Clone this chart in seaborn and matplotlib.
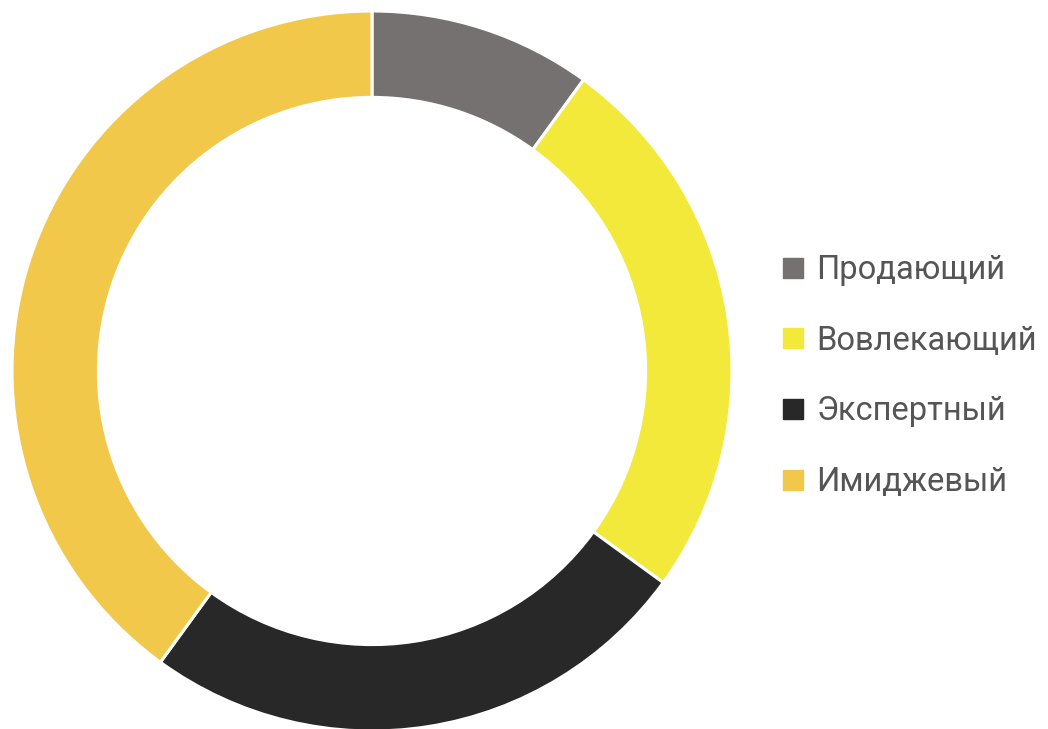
import matplotlib.pyplot as plt
import seaborn as sns
from matplotlib.lines import Line2D

# Данные
labels = ['Продающий', 'Вовлекающий', 'Экспертный', 'Имиджевый']
values = [10, 25, 25, 40]
colors = ['#757170', '#F2E93A', '#282828', '#F2C84B']

sns.set_theme(style='white')
plt.rcParams['font.family'] = ['Roboto', 'DejaVu Sans']

fig = plt.figure(figsize=(10.48, 7.29), dpi=100)
ax = fig.add_axes([12 / 1048, -2 / 729, 720 / 1048, 720 / 729])

ax.pie(values, colors=colors, startangle=90, counterclock=False,
       wedgeprops=dict(width=0.24, edgecolor='white', linewidth=2.2))
ax.set_xlim(-1, 1)
ax.set_ylim(-1, 1)
ax.set_aspect('equal')

handles = [Line2D([0], [0], marker='s', linestyle='', markersize=14.5,
                  markerfacecolor=c, markeredgecolor=c) for c in colors]
fig.legend(handles, labels, loc='center left', bbox_to_anchor=(783 / 1048, 0.484),
           frameon=False, fontsize=23.5, labelcolor='#555555',
           handlelength=0.62, handletextpad=0.4, labelspacing=1.18,
           borderpad=0, borderaxespad=0)

fig.savefig('out.png', dpi=100)
